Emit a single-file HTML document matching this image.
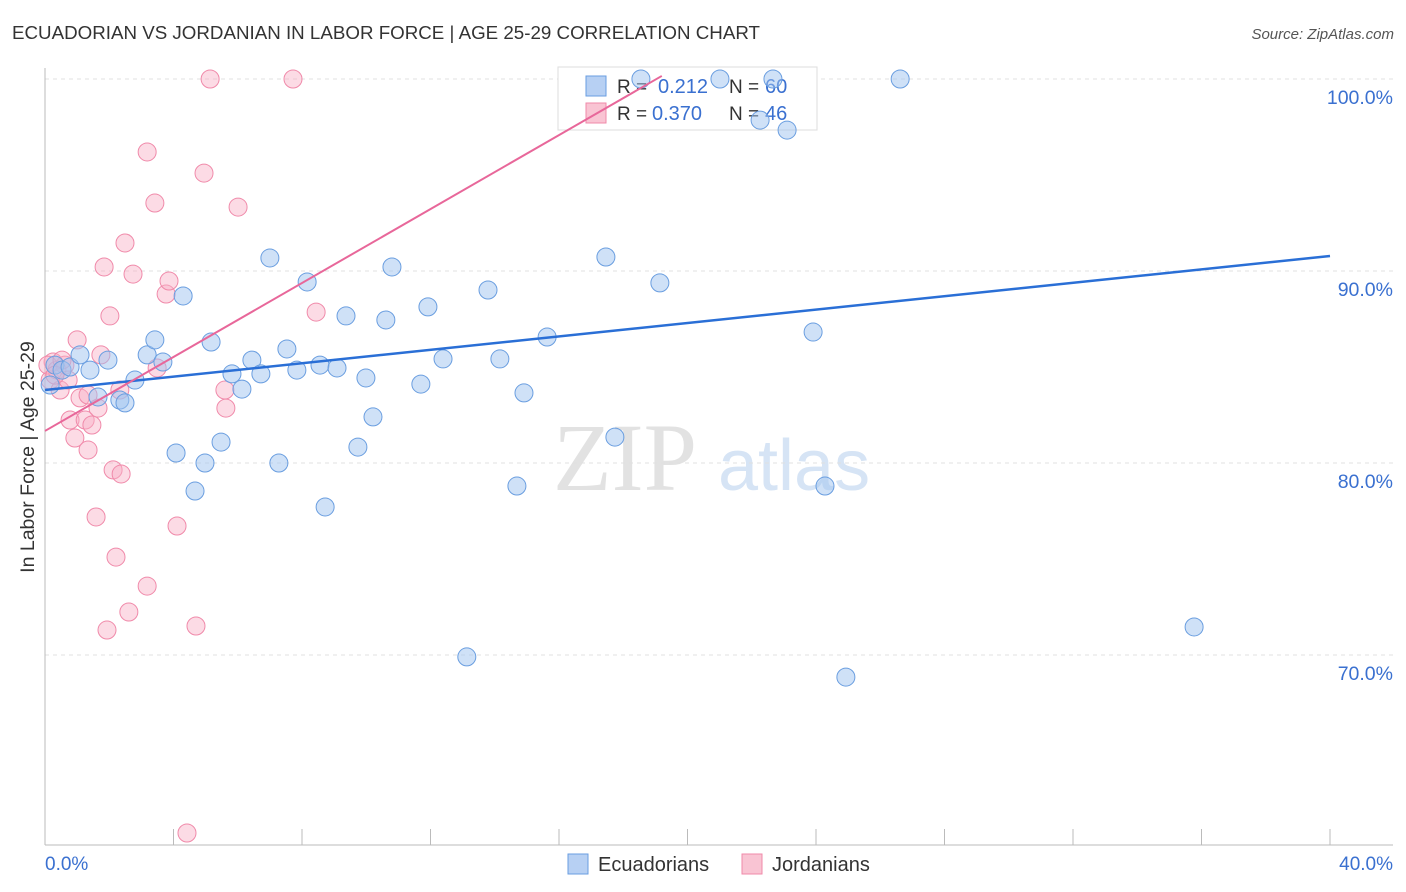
<!DOCTYPE html>
<html><head><meta charset="utf-8"><style>
body{margin:0;background:#fff;font-family:"Liberation Sans",sans-serif;}
#c{position:relative;width:1406px;height:892px;overflow:hidden}
</style></head><body>
<div id="c">
<svg id="s" width="1406" height="892" xmlns="http://www.w3.org/2000/svg">
<text x="12" y="39" font-size="18" fill="#333" textLength="748" lengthAdjust="spacingAndGlyphs">ECUADORIAN VS JORDANIAN IN LABOR FORCE | AGE 25-29 CORRELATION CHART</text>
<text x="1394" y="39" font-size="15" fill="#555" text-anchor="end" font-style="italic">Source: ZipAtlas.com</text>
<text x="553" y="490" font-size="96" fill="#e2e2e2" font-family="Liberation Serif,serif">ZIP</text>
<text x="718" y="490" font-size="72" fill="#d6e4f5">atlas</text>
<text transform="translate(34,457) rotate(-90)" font-size="19.5" fill="#333" text-anchor="middle">In Labor Force | Age 25-29</text>
<g id="grid"></g>
<g>
<rect x="558" y="67" width="259" height="63" fill="#fff" stroke="#ddd"/>
<rect x="586" y="76" width="20" height="20" fill="#b7d0f3" stroke="#6a9ee0"/>
<rect x="586" y="103" width="20" height="20" fill="#f9c4d3" stroke="#f08aaa"/>
<text x="617" y="93" font-size="19" fill="#333">R =</text>
<text x="658" y="93" font-size="20" fill="#3a70d0">0.212</text>
<text x="729" y="93" font-size="19" fill="#333">N =</text>
<text x="765" y="93" font-size="20" fill="#3a70d0">60</text>
<text x="617" y="120" font-size="19" fill="#333">R =</text>
<text x="652" y="120" font-size="20" fill="#3a70d0">0.370</text>
<text x="729" y="120" font-size="19" fill="#333">N =</text>
<text x="765" y="120" font-size="20" fill="#3a70d0">46</text>
</g>
<g id="marks"></g><g id="lines"></g>
<g>
<rect x="568" y="854" width="20" height="20" fill="#b7d0f3" stroke="#6a9ee0"/>
<text x="598" y="871" font-size="20" fill="#333">Ecuadorians</text>
<rect x="742" y="854" width="20" height="20" fill="#f9c4d3" stroke="#f08aaa"/>
<text x="772" y="871" font-size="20" fill="#333">Jordanians</text>
</g>
<text x="45" y="870" font-size="19" fill="#3a70d0">0.0%</text>
<text x="1393" y="870" font-size="19" fill="#3a70d0" text-anchor="end">40.0%</text>
</svg></div>
<script>
const blueX=[0.16,0.31,0.53,0.78,1.09,1.40,1.65,1.96,2.33,2.49,2.80,3.18,3.42,3.67,4.08,4.30,4.67,4.98,5.17,5.48,5.82,6.13,6.44,6.72,7.00,7.28,7.53,7.84,8.16,8.56,8.72,9.09,9.37,9.74,9.99,10.21,10.61,10.80,11.70,11.92,12.39,13.13,13.79,14.16,14.69,14.91,15.63,17.46,17.74,18.55,19.14,21.01,22.26,22.66,23.10,23.91,24.28,24.93,26.62,35.77];
const blueY=[84.06,85.10,84.84,85.0,85.63,84.84,83.44,85.36,83.28,83.13,84.32,85.63,86.41,85.26,80.52,88.70,78.54,80.0,86.30,81.09,84.64,83.85,85.36,84.64,90.68,80.0,85.94,84.84,89.43,85.10,77.71,84.95,87.66,80.83,84.43,82.40,87.45,90.21,84.11,88.13,85.42,69.90,89.01,85.42,78.80,83.65,86.56,90.73,81.35,100,89.38,100,97.86,100,97.34,86.82,78.80,68.85,100,71.46];
const pinkX=[0.16,0.25,0.37,0.47,0.62,0.72,0.78,0.93,1.00,1.09,1.25,1.34,1.34,1.46,1.59,1.65,1.74,1.84,1.93,2.02,2.12,2.21,2.33,2.37,2.49,2.61,2.74,3.18,3.18,3.42,3.49,3.77,3.86,4.11,4.42,4.70,4.95,5.14,5.60,5.63,6.01,7.72,8.44,0.09,0.53,0.31];
const pinkY=[84.32,85.26,84.84,83.80,85.10,84.32,82.24,81.30,86.41,83.39,82.24,83.54,80.68,81.98,77.19,82.86,85.63,90.21,71.30,87.66,79.64,75.10,83.80,79.43,91.46,72.24,89.84,73.59,96.20,93.54,84.95,88.80,89.48,76.72,60.73,71.51,95.10,100,83.80,82.86,93.33,100,87.86,85.10,85.36,84.58];
const blueTrend=[83.80,90.78];
const pinkTrend=[81.67,0.963];
const yTicks=[100,90,80,70];
const xTicks=[0,4,8,12,16,20,24,28,32,36,40];
const sx=v=>45+v*1285/40, sy=v=>79+(100-v)*19.2;
const NS="http://www.w3.org/2000/svg";
function mk(t,a,p){const e=document.createElementNS(NS,t);for(const k in a)e.setAttribute(k,a[k]);p.appendChild(e);return e;}
const g=document.getElementById('grid');
yTicks.forEach(v=>{
 const l=mk('line',{x1:45,x2:1393,y1:sy(v),y2:sy(v),stroke:'#e0e0e0','stroke-dasharray':'4,4'},g);
 
 
 const t=mk('text',{x:1393,y:sy(v)+25,'font-size':19.5,fill:'#3a70d0','text-anchor':'end'},g);
 t.textContent=v.toFixed(1)+'%';
 
 
});
const ax=mk('line',{x1:45,x2:45,y1:68,y2:845,stroke:'#bbb'},g);


const bx=mk('line',{x1:45,x2:1393,y1:845,y2:845,stroke:'#bbb'},g);


xTicks.forEach(v=>{const t=mk('line',{x1:sx(v),x2:sx(v),y1:829,y2:845,stroke:'#bbb'},g);
 
 });
const m=document.getElementById('marks');
function pts(X,Y,f,s,n){X.forEach((x,i)=>{const c=mk('circle',{cx:sx(x),cy:sy(Y[i]),r:9,fill:f,stroke:s,'stroke-width':1},m);
 
 });}
pts(pinkX,pinkY,'rgba(248,175,198,0.45)','#f08aaa','point-jordanian');
pts(blueX,blueY,'rgba(160,196,240,0.5)','#6a9ee0','point-ecuadorian');
const L=document.getElementById('lines');
const b=mk('line',{x1:sx(0),y1:sy(blueTrend[0]),x2:sx(40),y2:sy(blueTrend[1]),stroke:'#2a6fd6','stroke-width':2.5},L);


const px2=19.2;
const p=mk('line',{x1:sx(0),y1:sy(pinkTrend[0]),x2:sx(px2),y2:sy(pinkTrend[0]+pinkTrend[1]*px2),stroke:'#e8679a','stroke-width':2},L);


</script>
</body></html>
